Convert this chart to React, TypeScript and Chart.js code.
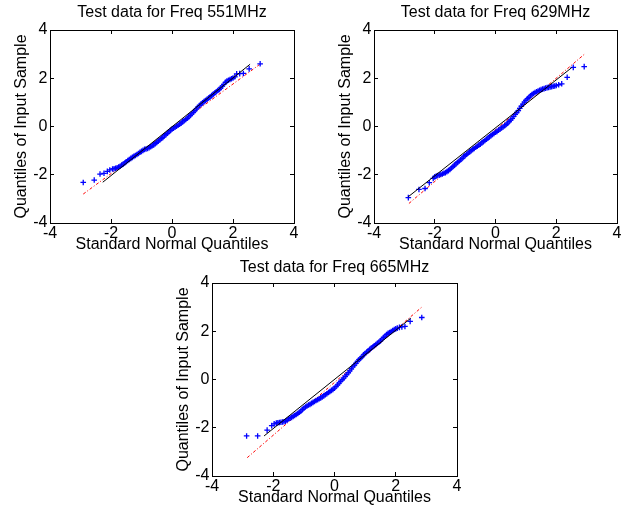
import React, { useEffect, useRef } from "react";
import { Chart, registerables } from "chart.js";

Chart.register(...registerables);

// ---------- data ----------
const tickValues = [-4, -2, 0, 2, 4];
const axisMin = -4;
const axisMax = 4;
const xAxisTitle = "Standard Normal Quantiles";
const yAxisTitle = "Quantiles of Input Sample";
const plotTitles = [
  "Test data for Freq 551MHz",
  "Test data for Freq 629MHz",
  "Test data for Freq 665MHz",
];

// 551 MHz (sample quantiles vs. standard normal quantiles)
const x551 = [
  -2.91, -2.55, -2.36, -2.23, -2.12, -2.04,
  -1.95, -1.9, -1.85, -1.8, -1.75, -1.7, -1.65, -1.6, -1.55, -1.5,
  -1.45, -1.4, -1.35, -1.3, -1.25, -1.2, -1.15, -1.1, -1.05, -1.0,
  -0.95, -0.9, -0.85, -0.8, -0.75, -0.7, -0.65, -0.6, -0.55, -0.5,
  -0.45, -0.4, -0.35, -0.3, -0.25, -0.2, -0.15, -0.1, -0.05, 0.0,
  0.05, 0.1, 0.15, 0.2, 0.25, 0.3, 0.35, 0.4, 0.45, 0.5,
  0.55, 0.6, 0.65, 0.7, 0.75, 0.8, 0.85, 0.9, 0.95, 1.0,
  1.05, 1.1, 1.15, 1.2, 1.25, 1.3, 1.35, 1.4, 1.45, 1.5,
  1.55, 1.6, 1.65, 1.7, 1.75, 1.8, 1.85, 1.9, 1.95, 2.0,
  2.06, 2.12, 2.22, 2.34, 2.53, 2.89,
];
const y551 = [
  -2.32, -2.22, -1.97, -1.94, -1.86, -1.8,
  -1.76, -1.75, -1.73, -1.71, -1.68, -1.65, -1.6, -1.56, -1.51, -1.46,
  -1.41, -1.37, -1.32, -1.28, -1.24, -1.2, -1.16, -1.12, -1.07, -1.03,
  -0.99, -0.95, -0.93, -0.91, -0.88, -0.84, -0.8, -0.76, -0.71, -0.66,
  -0.61, -0.56, -0.5, -0.45, -0.39, -0.34, -0.28, -0.22, -0.16, -0.11,
  -0.07, -0.03, 0.01, 0.05, 0.1, 0.14, 0.19, 0.24, 0.29, 0.34,
  0.4, 0.46, 0.52, 0.59, 0.66, 0.73, 0.8, 0.87, 0.93, 0.98,
  1.03, 1.08, 1.13, 1.18, 1.23, 1.28, 1.33, 1.39, 1.44, 1.49,
  1.54, 1.6, 1.67, 1.75, 1.83, 1.88, 1.92, 1.95, 1.98, 2.01,
  2.06, 2.18, 2.19, 2.2, 2.39, 2.6,
];
const ref551X = [-2.27, 2.56];
const ref551Y = [-2.31, 2.58];
const fit551X = [-2.91, 2.87];
const fit551Y = [-2.8, 2.57];

// 629 MHz
const x629 = [
  -2.87, -2.52, -2.32, -2.18, -2.05, -2.0,
  -1.95, -1.9, -1.85, -1.8, -1.75, -1.7, -1.65, -1.6, -1.55, -1.5,
  -1.45, -1.4, -1.35, -1.3, -1.25, -1.2, -1.15, -1.1, -1.05, -1.0,
  -0.95, -0.9, -0.85, -0.8, -0.75, -0.7, -0.65, -0.6, -0.55, -0.5,
  -0.45, -0.4, -0.35, -0.3, -0.25, -0.2, -0.15, -0.1, -0.05, 0.0,
  0.05, 0.1, 0.15, 0.2, 0.25, 0.3, 0.35, 0.4, 0.45, 0.5,
  0.55, 0.6, 0.65, 0.7, 0.75, 0.8, 0.85, 0.9, 0.95, 1.0,
  1.05, 1.1, 1.15, 1.2, 1.25, 1.3, 1.35, 1.4, 1.45, 1.5,
  1.55, 1.6, 1.65, 1.7, 1.75, 1.8, 1.85, 1.9, 1.95, 2.0,
  2.08, 2.18, 2.36, 2.56, 2.92,
];
const y629 = [
  -2.95, -2.61, -2.57, -2.33, -2.15, -2.09,
  -2.05, -2.03, -2.01, -1.99, -1.97, -1.94, -1.91, -1.87, -1.83, -1.78,
  -1.72, -1.66, -1.6, -1.55, -1.49, -1.44, -1.38, -1.32, -1.26, -1.21,
  -1.15, -1.1, -1.05, -1.0, -0.95, -0.91, -0.86, -0.82, -0.77, -0.73,
  -0.68, -0.63, -0.58, -0.53, -0.48, -0.43, -0.38, -0.33, -0.29, -0.24,
  -0.2, -0.15, -0.11, -0.06, -0.02, 0.03, 0.08, 0.14, 0.2, 0.27,
  0.34, 0.42, 0.5, 0.58, 0.66, 0.75, 0.84, 0.93, 1.01, 1.08,
  1.15, 1.21, 1.27, 1.32, 1.37, 1.41, 1.44, 1.47, 1.5, 1.53,
  1.55, 1.57, 1.59, 1.61, 1.62, 1.64, 1.65, 1.67, 1.68, 1.7,
  1.73, 1.77, 2.04, 2.45, 2.48,
];
const ref629X = [-2.87, 2.51];
const ref629Y = [-2.91, 2.44];
const fit629X = [-2.85, 2.94];
const fit629Y = [-3.19, 3.01];

// 665 MHz
const x665 = [
  -2.87, -2.51, -2.2, -2.05, -1.97,
  -1.9, -1.85, -1.8, -1.75, -1.7, -1.65, -1.6, -1.55, -1.5, -1.45,
  -1.4, -1.35, -1.3, -1.25, -1.2, -1.15, -1.1, -1.05, -1.0, -0.95,
  -0.9, -0.85, -0.8, -0.75, -0.7, -0.65, -0.6, -0.55, -0.5, -0.45,
  -0.4, -0.35, -0.3, -0.25, -0.2, -0.15, -0.1, -0.05, 0.0, 0.05,
  0.1, 0.15, 0.2, 0.25, 0.3, 0.35, 0.4, 0.45, 0.5, 0.55,
  0.6, 0.65, 0.7, 0.75, 0.8, 0.85, 0.9, 0.95, 1.0, 1.05,
  1.1, 1.15, 1.2, 1.25, 1.3, 1.35, 1.4, 1.45, 1.5, 1.55,
  1.6, 1.65, 1.7, 1.75, 1.8, 1.85, 1.9, 1.95, 2.0, 2.05,
  2.12, 2.2, 2.3, 2.47, 2.85,
];
const y665 = [
  -2.34, -2.34, -2.1, -1.91, -1.84,
  -1.81, -1.79, -1.78, -1.77, -1.76, -1.75, -1.73, -1.69, -1.63, -1.6,
  -1.57, -1.53, -1.49, -1.45, -1.41, -1.36, -1.31, -1.25, -1.19, -1.14,
  -1.1, -1.06, -1.03, -0.99, -0.95, -0.91, -0.87, -0.84, -0.8, -0.76,
  -0.72, -0.68, -0.63, -0.59, -0.54, -0.5, -0.45, -0.41, -0.36, -0.29,
  -0.22, -0.15, -0.08, -0.01, 0.06, 0.13, 0.2, 0.28, 0.36, 0.44,
  0.52, 0.6, 0.67, 0.75, 0.82, 0.88, 0.95, 1.02, 1.08, 1.14,
  1.19, 1.25, 1.3, 1.35, 1.4, 1.45, 1.5, 1.55, 1.6, 1.67,
  1.74, 1.8, 1.86, 1.91, 1.95, 1.99, 2.03, 2.07, 2.1, 2.13,
  2.16, 2.18, 2.2, 2.41, 2.57,
];
const ref665X = [-2.3, 2.49];
const ref665Y = [-2.34, 2.54];
const fit665X = [-2.85, 2.85];
const fit665Y = [-3.24, 3.0];

// ---------- layout ----------
const FONT = "'Liberation Sans', Arial, Helvetica, sans-serif";

type PlotCfg = {
  title: string;
  xs: number[];
  ys: number[];
  refX: number[];
  refY: number[];
  fitX: number[];
  fitY: number[];
  left: number;
  top: number;
  width: number;
  height: number;
  padRight: number;
  titlePad: { top: number; bottom: number };
};

const plots: PlotCfg[] = [
  { title: plotTitles[0], xs: x551, ys: y551, refX: ref551X, refY: ref551Y, fitX: fit551X, fitY: fit551Y,
    left: 0, top: 0, width: 310, height: 257, padRight: 16, titlePad: { top: 3.4, bottom: 7.4 } },
  { title: plotTitles[1], xs: x629, ys: y629, refX: ref629X, refY: ref629Y, fitX: fit629X, fitY: fit629Y,
    left: 324, top: 0, width: 307, height: 257, padRight: 14, titlePad: { top: 3.4, bottom: 7.4 } },
  { title: plotTitles[2], xs: x665, ys: y665, refX: ref665X, refY: ref665Y, fitX: fit665X, fitY: fit665Y,
    left: 162, top: 256, width: 311, height: 254, padRight: 16, titlePad: { top: 1.7, bottom: 6.1 } },
];

const pts = (xs: number[], ys: number[]) => xs.map((x, i) => ({ x, y: ys[i] }));
const setTicks = (s: any) => {
  s.ticks = tickValues.map((v) => ({ value: v }));
};

function QQPlot({ cfg }: { cfg: PlotCfg }) {
  const ref = useRef<HTMLCanvasElement | null>(null);
  useEffect(() => {
    if (!ref.current) return;
    const tickGrid = {
      display: true,
      drawOnChartArea: false,
      drawTicks: true,
      tickLength: -4,
      color: "#000",
      lineWidth: 1,
    };
    const border = { display: true, color: "#000", width: 1 };
    const chart = new Chart(ref.current, {
      type: "scatter",
      data: {
        datasets: [
          {
            data: pts(cfg.refX, cfg.refY),
            showLine: true,
            borderColor: "#000",
            borderWidth: 1,
            pointRadius: 0,
          },
          {
            data: pts(cfg.xs, cfg.ys),
            showLine: false,
            pointStyle: "cross",
            pointRadius: 2.8,
            borderColor: "rgb(0,0,255)",
            backgroundColor: "rgb(0,0,255)",
            pointBorderWidth: 1.3,
          },
          {
            data: pts(cfg.fitX, cfg.fitY),
            showLine: true,
            borderColor: "rgb(255,0,0)",
            borderWidth: 1,
            borderDash: [3, 2, 1, 2],
            pointRadius: 0,
          },
        ],
      },
      options: {
        animation: false,
        responsive: false,
        devicePixelRatio: 1,
        layout: { padding: { left: 0, right: cfg.padRight, top: 0, bottom: 0 } },
        plugins: {
          legend: { display: false },
          tooltip: { enabled: false },
          title: {
            display: true,
            text: cfg.title,
            fullSize: false,
            color: "#000",
            font: { family: FONT, size: 16, weight: "normal" },
            padding: cfg.titlePad,
          },
        },
        scales: {
          x: {
            type: "linear",
            position: "bottom",
            min: axisMin,
            max: axisMax,
            afterBuildTicks: setTicks,
            afterFit: (s: any) => {
              s.height = 34;
            },
            grid: tickGrid,
            border,
            ticks: { color: "#000", padding: 5, font: { family: FONT, size: 16 }, maxRotation: 0 },
            title: {
              display: true,
              text: xAxisTitle,
              color: "#000",
              font: { family: FONT, size: 16 },
              padding: { top: 0, bottom: 2.4 },
            },
          },
          y: {
            type: "linear",
            position: "left",
            min: axisMin,
            max: axisMax,
            afterBuildTicks: setTicks,
            afterFit: (s: any) => {
              s.width = 50;
            },
            grid: tickGrid,
            border,
            ticks: { color: "#000", padding: 6.5, font: { family: FONT, size: 16 } },
            title: {
              display: true,
              text: yAxisTitle,
              color: "#000",
              font: { family: FONT, size: 16 },
              padding: { top: 12.4, bottom: 0 },
            },
          },
          x2: {
            type: "linear",
            position: "top",
            min: axisMin,
            max: axisMax,
            afterBuildTicks: setTicks,
            afterFit: (s: any) => {
              s.height = 0;
            },
            grid: tickGrid,
            border,
            ticks: { display: false },
          },
          y2: {
            type: "linear",
            position: "right",
            min: axisMin,
            max: axisMax,
            afterBuildTicks: setTicks,
            afterFit: (s: any) => {
              s.width = 0;
            },
            grid: tickGrid,
            border,
            ticks: { display: false },
          },
        },
      } as any,
    });
    return () => chart.destroy();
  }, [cfg]);
  return (
    <canvas
      ref={ref}
      width={cfg.width}
      height={cfg.height}
      style={{ position: "absolute", left: cfg.left, top: cfg.top, width: cfg.width, height: cfg.height, display: "block" }}
    />
  );
}

export default function App() {
  return (
    <div style={{ position: "absolute", left: 0, top: 0, width: 631, height: 510, background: "#fff", overflow: "hidden" }}>
      {plots.map((p, i) => (
        <QQPlot key={i} cfg={p} />
      ))}
    </div>
  );
}
